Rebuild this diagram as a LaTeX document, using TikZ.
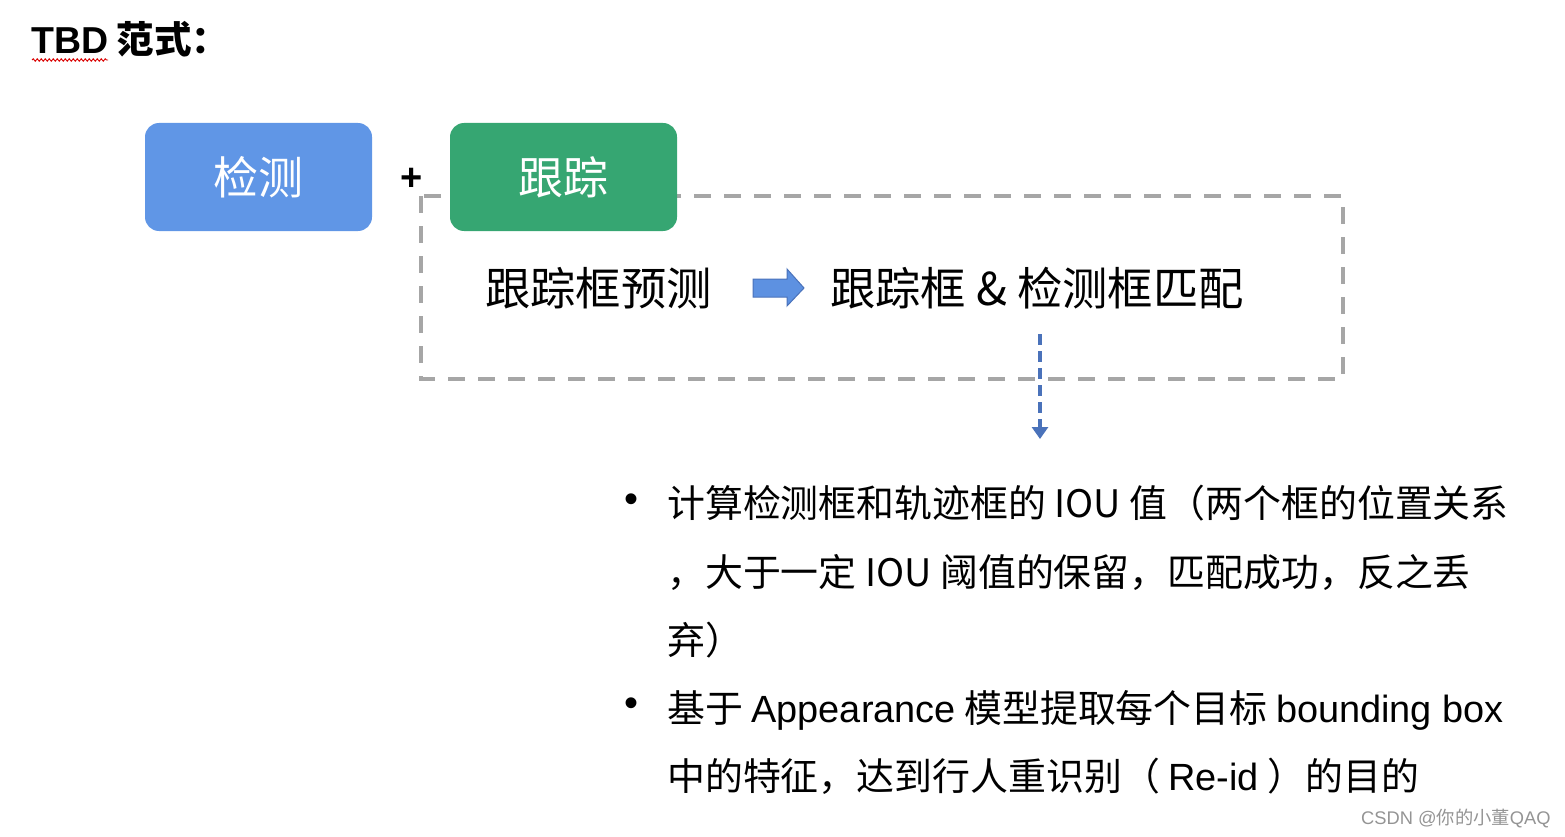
\documentclass[tikz,border=0pt]{standalone}
\usepackage{fontspec}
\setmainfont{Noto Sans CJK SC}
\newfontfamily\arial{Liberation Sans}
\usetikzlibrary{arrows.meta,decorations.pathmorphing}
\definecolor{boxblue}{RGB}{96,150,230}
\definecolor{boxgreen}{RGB}{54,166,114}
\definecolor{dashgray}{RGB}{166,166,166}
\definecolor{arrowblue}{RGB}{74,114,186}
\definecolor{arrowfill}{RGB}{93,145,225}
\tikzset{
  headbox/.style={rounded corners=14pt, minimum width=227pt, minimum height=108pt, inner sep=0pt, text=white, font=\fontsize{45}{50}\selectfont},
  body/.style={anchor=base west, inner sep=0pt, font=\fontsize{45.3}{50}\selectfont},
  bul/.style={anchor=base west, inner sep=0pt, font=\fontsize{37.9}{42}\selectfont},
  dot/.style={inner sep=0pt, font=\arial\fontsize{40}{44}\selectfont},
}
\begin{document}
\begin{tikzpicture}[x=1pt,y=-1pt]
\useasboundingbox (0,0) rectangle (1565,837);
% title
\node (title) [anchor=base west, inner sep=0pt, font=\fontsize{37.5}{42}\selectfont\bfseries] at (31,54) {{\arial\bfseries TBD} 范式：};
\coordinate (wavyA) at (32,60);
\coordinate (wavyB) at (108,60);
\draw[red!85!black, line width=0.9pt, decorate, decoration={snake, amplitude=1.2pt, segment length=4pt}] (wavyA) -- (wavyB);
% dashed frame (drawn first, green box covers it)
\coordinate (fTL) at (421,196);
\coordinate (fBR) at (1343,379);
\draw[dashgray, line width=3.6pt, dash pattern=on 17pt off 13pt] (fTL) rectangle (fBR);
% boxes
\node (det) [headbox, fill=boxblue] at (258.5,177) {检测};
\node (plus) [inner sep=0pt, font=\arial\bfseries\fontsize{38}{42}\selectfont] at (412,179) {+};
\node (trk) [headbox, fill=boxgreen] at (563.5,177) {跟踪};
% inner texts
\node (pred) [body] at (485,305) {跟踪框预测};
\node (match) [body] at (830,305) {跟踪框 \& 检测框匹配};
% block arrow
\draw[arrowblue, fill=arrowfill, line width=1pt, line join=miter]
  (753,279) -- (787,279) -- (787,269) -- (804,288) -- (787,306) -- (787,297) -- (753,297) -- cycle;
% dashed arrow
\coordinate (dtop) at (1040,334);
\coordinate (dbot) at (1040,439);
\draw[arrowblue, line width=3.6pt, dash pattern=on 11pt off 6pt, -{Triangle[width=16pt,length=12pt]}] (dtop) -- (dbot);
% bullets
\node (b1) [dot] at (631,503) {•};
\node (l1) [bul] at (667,517) {计算检测框和轨迹框的 IOU 值（两个框的位置关系};
\node (l2) [bul] at (667,586) {，大于一定 IOU 阈值的保留，匹配成功，反之丢};
\node (l3) [bul] at (667,654) {弃）};
\node (b2) [dot] at (631,707) {•};
\node (l4) [bul] at (667,722) {基于 {\arial Appearance} 模型提取每个目标 {\arial bounding box}};
\node (l5) [bul] at (667,790) {中的特征，达到行人重识别（ {\arial Re-id} ）的目的};
% watermark
\node (wm) [anchor=base west, inner sep=0pt, text=black!42, font=\fontsize{18.3}{20}\selectfont] at (1361,824) {{\arial CSDN @}你的小董{\arial QAQ}};
\end{tikzpicture}
\end{document}
